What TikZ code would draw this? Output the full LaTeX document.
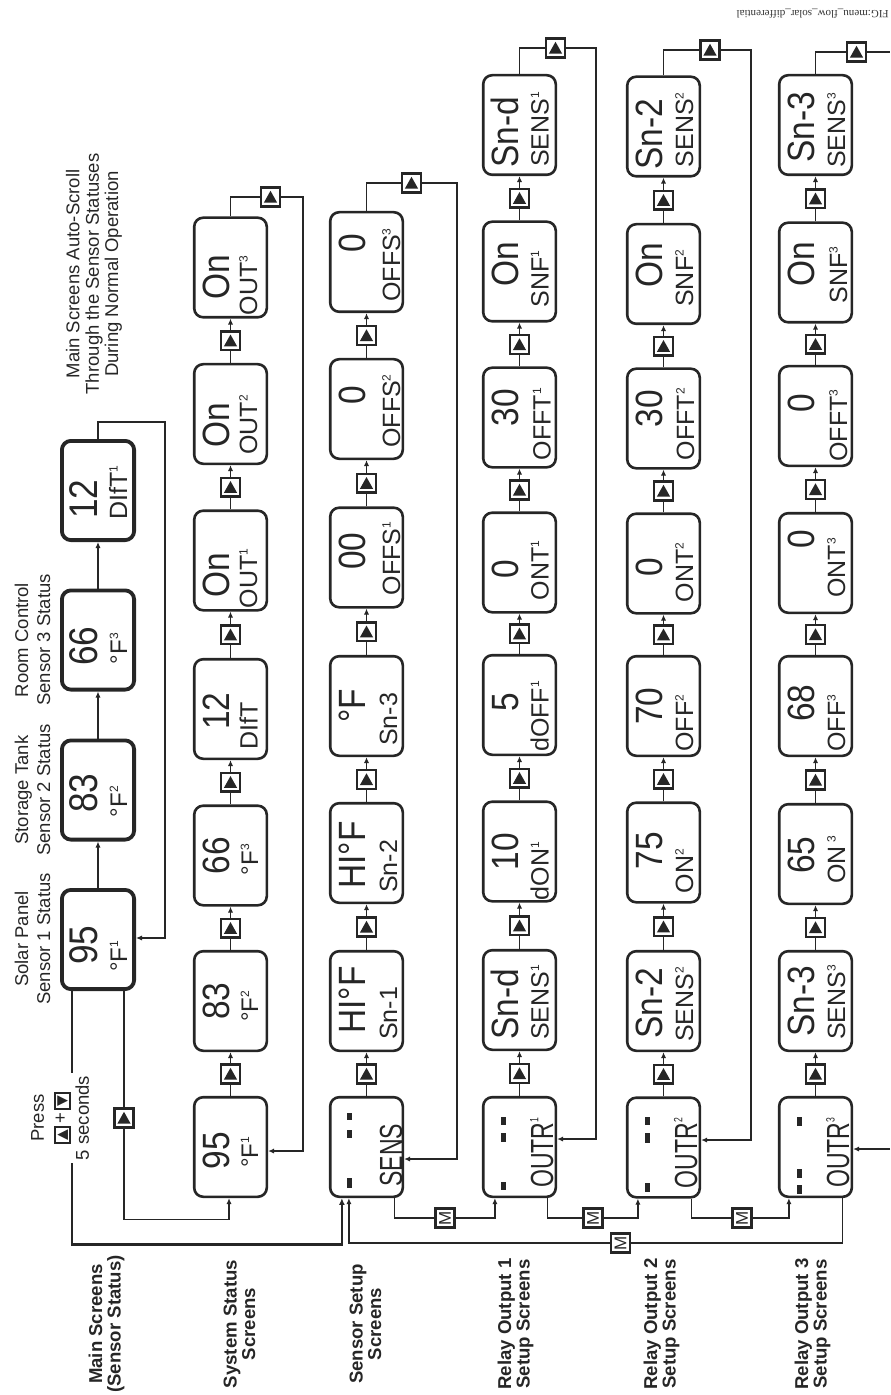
\documentclass[tikz,border=0pt]{standalone}
\usepackage{fontspec}
\setmainfont{Liberation Sans}
\newfontfamily\bigf[FakeStretch=0.88]{Liberation Sans}
\newfontfamily\narf[FakeStretch=0.72]{Liberation Sans}
\newfontfamily\symf{DejaVu Sans}
\newfontfamily\figf{Liberation Serif}
\usetikzlibrary{arrows.meta,calc}
\newcommand{\sups}[1]{\raisebox{\dimexpr0.716em-4.2pt\relax}{\fontsize{6}{6}\selectfont #1}}
\newcommand{\keyb}[1]{{\setlength{\fboxsep}{0.7pt}\setlength{\fboxrule}{0.9pt}\fbox{\symf\fontsize{7}{7}\selectfont #1}}}
\newcommand{\scrn}[9]{%
  \node[curbox] (#1) at (#2,#3) {};
  \node[curbig] (#1-big) at ($(#1.center)+(-1,#6)$) {#4};
  \node[#8] (#1-lab) at ($(#1.south)+(#9,-#7)$) {#5};
}
\begin{document}
\begin{tikzpicture}[x=0.5pt,y=-0.5pt,
  conn/.style={draw=black!85, line width=0.6pt},
  arr/.style={conn, -{Latex[length=3pt,width=2.6pt]}},
  thk/.style={draw=black!85, line width=1.4pt, -{Latex[length=3.4pt,width=3pt]}},
  scr/.style={draw=black!85, line width=1.3pt, rounded corners=4.5pt, minimum width=36.3pt, minimum height=49.8pt, inner sep=0pt},
  scrm/.style={scr, line width=1.9pt, minimum width=36.1pt, minimum height=49.6pt},
  bigt/.style={rotate=90, anchor=base, inner sep=0pt, text=black!85, font=\bigf\fontsize{19}{19}\selectfont},
  bigtm/.style={bigt, font=\bigf\fontsize{20}{20}\selectfont},
  smallt/.style={rotate=90, anchor=base west, inner sep=0pt, text=black!85, font=\fontsize{12.5}{12.5}\selectfont},
  degt/.style={smallt, font=\fontsize{12}{12}\selectfont},
  senst/.style={smallt, font=\narf\fontsize{16}{16}\selectfont},
  upbtn/.style={draw=black!85, line width=1.2pt, fill=white, minimum size=9.4pt, inner sep=0pt,
    path picture={\fill[black!85] ([xshift=-3.3pt,yshift=-2.8pt]path picture bounding box.center) -- ([xshift=3.3pt,yshift=-2.8pt]path picture bounding box.center) -- ([yshift=3.1pt]path picture bounding box.center) -- cycle;}},
  mbtn/.style={draw=black!85, line width=1.2pt, fill=white, minimum size=9.4pt, inner sep=0pt, rotate=90, text=black!85, font=\fontsize{8.5}{8.5}\selectfont},
  hdr/.style={rotate=90, align=center, inner sep=0pt, text=black!85, font=\fontsize{9.25}{11}\selectfont},
  note/.style={hdr, font=\fontsize{9.25}{9.7}\selectfont},
  rowlab/.style={rotate=90, align=center, inner sep=0pt, text=black!85, font=\bfseries\fontsize{9.3}{9.2}\selectfont},
  dsh/.style={fill=black!85}
]
\useasboundingbox (0,0) rectangle (890,1395);

% ---------------- main screens
\begin{scope}[curbox/.style={scrm}, curbig/.style={bigtm}]
\scrn{ma}{98}{939.5}{95}{°F\sups{1}}{5.5}{19}{degt}{29}
\scrn{mb}{98}{790}{83}{°F\sups{2}}{3}{24}{degt}{29}
\scrn{mc}{98}{640}{66}{°F\sups{3}}{6}{27}{degt}{29}
\scrn{md}{98}{490.5}{12}{DIfT\sups{1}}{8.5}{22}{smallt}{29}
\end{scope}

\begin{scope}[curbox/.style={scr}, curbig/.style={bigt}]
% system status
\scrn{sa}{230.5}{1147}{95}{°F\sups{1}}{3.5}{30}{degt}{27.5}
\scrn{sb}{230.5}{1001}{83}{°F\sups{2}}{0}{30}{degt}{27.5}
\scrn{sc}{230.5}{855.5}{66}{°F\sups{3}}{0}{31}{degt}{27.5}
\scrn{sd}{230.5}{709}{12}{DIfT}{2}{10}{smallt}{27}
\scrn{se}{230.5}{560.5}{On}{OUT\sups{1}}{15}{3}{smallt}{26.5}
\scrn{sf}{230.5}{414}{On}{OUT\sups{2}}{11}{10}{smallt}{26.5}
\scrn{sg}{230.5}{267.5}{On}{OUT\sups{3}}{10}{3}{smallt}{26.5}
% sensor setup
\scrn{ea}{366.5}{1147}{}{SENS}{0}{11}{senst}{35.5}
\scrn{eb}{366.5}{1001}{HI°F}{Sn-1}{-1}{12}{smallt}{30.5}
\scrn{ec}{366.5}{853}{HI°F}{Sn-2}{2}{11}{smallt}{30.5}
\scrn{ed}{366.5}{706}{°F}{Sn-3}{0}{11}{smallt}{30.5}
\scrn{ee}{366.5}{557.5}{00}{OFFS\sups{1}}{-6.5}{13}{smallt}{33.5}
\scrn{ef}{366.5}{409}{0}{OFFS\sups{2}}{-14}{12}{smallt}{33.5}
\scrn{eg}{366.5}{262}{0}{OFFS\sups{3}}{-18.5}{11}{smallt}{33.5}
% relay 1
\scrn{r1a}{519.5}{1147}{}{OUTR\sups{1}}{0}{10}{senst}{33.5}
\scrn{r1b}{519.5}{1000}{Sn-d}{SENS\sups{1}}{4}{11}{smallt}{29}
\scrn{r1c}{519.5}{851.5}{10}{dON\sups{1}}{0}{2}{smallt}{29}
\scrn{r1d}{519.5}{705}{5}{dOFF\sups{1}}{-3}{4}{smallt}{29}
\scrn{r1e}{519.5}{562.5}{0}{ONT\sups{1}}{6.5}{13}{smallt}{29}
\scrn{r1f}{519.5}{417.5}{30}{OFFT\sups{1}}{-10}{8}{smallt}{31}
\scrn{r1g}{519.5}{271.5}{On}{SNF\sups{1}}{-7}{15}{smallt}{29}
\scrn{r1h}{519.5}{125}{Sn-d}{SENS\sups{1}}{7}{9}{smallt}{29}
% relay 2
\scrn{r2a}{663.5}{1147.5}{}{OUTR\sups{2}}{0}{10}{senst}{33.5}
\scrn{r2b}{663.5}{1001}{Sn-2}{SENS\sups{2}}{2.5}{10}{smallt}{29.5}
\scrn{r2c}{663.5}{852.5}{75}{ON\sups{2}}{-2}{10}{smallt}{29.5}
\scrn{r2d}{663.5}{706}{70}{OFF\sups{2}}{0}{5}{smallt}{29.5}
\scrn{r2e}{663.5}{563.5}{0}{ONT\sups{2}}{4}{12}{smallt}{29.5}
\scrn{r2f}{663.5}{418.5}{30}{OFFT\sups{2}}{-10}{9}{smallt}{30.5}
\scrn{r2g}{663.5}{274}{On}{SNF\sups{2}}{-9}{18}{smallt}{29.5}
\scrn{r2h}{663.5}{126.5}{Sn-2}{SENS\sups{2}}{7.5}{10}{smallt}{29.5}
% relay 3
\scrn{r3a}{815.5}{1147}{}{OUTR\sups{3}}{0}{10}{senst}{33.5}
\scrn{r3b}{815.5}{1001}{Sn-3}{SENS\sups{3}}{0}{12}{smallt}{29.5}
\scrn{r3c}{815.5}{854}{65}{ON\,\sups{3}}{1}{21}{smallt}{29.5}
\scrn{r3d}{815.5}{706}{68}{OFF\sups{3}}{-3}{5}{smallt}{29.5}
\scrn{r3e}{815.5}{563}{0}{ONT\sups{3}}{-23.5}{16}{smallt}{29.5}
\scrn{r3f}{815.5}{416}{0}{OFFT\sups{3}}{-12.5}{5}{smallt}{31.5}
\scrn{r3g}{815.5}{272.5}{On}{SNF\sups{3}}{-8.5}{20}{smallt}{31.5}
\scrn{r3h}{815.5}{125}{Sn-3}{SENS\sups{3}}{2.5}{8}{smallt}{29.5}
\end{scope}

% display dashes
\fill[dsh] (347,1113) rectangle (352,1120);
\fill[dsh] (347,1130) rectangle (352,1138);
\fill[dsh] (347,1178) rectangle (352,1188);
\fill[dsh] (501,1117) rectangle (505.5,1125);
\fill[dsh] (501,1133) rectangle (505.5,1142);
\fill[dsh] (501,1182) rectangle (505.5,1190);
\fill[dsh] (645,1117) rectangle (649.5,1125);
\fill[dsh] (645,1133) rectangle (649.5,1143);
\fill[dsh] (645,1183) rectangle (649.5,1192);
\fill[dsh] (797,1117) rectangle (801.5,1126);
\fill[dsh] (797,1169) rectangle (801.5,1178);
\fill[dsh] (797,1185) rectangle (801.5,1194);

% ---------------- row connectors with up buttons
\foreach \rw in {s,e}{\foreach \i/\j in {a/b,b/c,c/d,d/e,e/f,f/g}{
  \node[upbtn] (bt\rw\i) at ($(\rw\i.north)!0.5!(\rw\j.south)$) {};
  \draw[conn] (\rw\i.north) -- (bt\rw\i);
  \draw[arr] (bt\rw\i) -- (\rw\j.south);
}}
\foreach \rw in {r1,r2,r3}{\foreach \i/\j in {a/b,b/c,c/d,d/e,e/f,f/g,g/h}{
  \node[upbtn] (bt\rw\i) at ($(\rw\i.north)!0.5!(\rw\j.south)$) {};
  \draw[conn] (\rw\i.north) -- (bt\rw\i);
  \draw[arr] (bt\rw\i) -- (\rw\j.south);
}}

% main row
\draw[arr] (ma.north) -- (mb.south);
\draw[arr] (mb.north) -- (mc.south);
\draw[arr] (mc.north) -- (md.south);
\coordinate (cm) at (165,938);
\draw[arr] (md.north) -- ++(0,-17) -| (cm) -- (cm -| ma.east);

% loops back to first screen
\node[upbtn] (lbs) at (270.5,197) {};
\coordinate (cs) at (303,1151);
\draw[conn] (sg.north) |- (lbs);
\draw[arr] (lbs) -| (cs) -- (cs -| sa.east);

\node[upbtn] (lbe) at (411.5,183) {};
\coordinate (ce) at (457,1159);
\draw[conn] (eg.north) |- (lbe);
\draw[arr] (lbe) -| (ce) -- (ce -| ea.east);

\node[upbtn] (lb1) at (555.5,48) {};
\coordinate (c1) at (596,1139);
\draw[conn] (r1h.north) |- (lb1);
\draw[arr] (lb1) -| (c1) -- (c1 -| r1a.east);

\node[upbtn] (lb2) at (710,50) {};
\coordinate (c2) at (751,1140);
\draw[conn] (r2h.north) |- (lb2);
\draw[arr] (lb2) -| (c2) -- (c2 -| r2a.east);

\node[upbtn] (lb3) at (856.5,52) {};
\coordinate (c3a) at (890,52);
\coordinate (c3b) at (890,1149);
\draw[conn] (r3h.north) |- (lb3);
\draw[conn] (lb3) -- (c3a);
\draw[arr] (c3b) -- (c3b -| r3a.east);

% main -> system status
\node[upbtn] (mbt) at ($([xshift=-6pt]ma.south east)+(0,127)$) {};
\draw[conn] ([xshift=-6pt]ma.south east) -- (mbt);
\draw[arr] (mbt) |- ($(sa.south)+(-1.5,21)$) -- ([xshift=-0.75pt]sa.south);

% main -> sensor setup (thick)
\draw[thk] ([xshift=6pt]ma.south west) |- ($(ea.south west)+(13,46)$) -- ([xshift=6.5pt]ea.south west);

% M connectors
\node[mbtn] (mb1) at (445,1218) {M};
\node[mbtn] (mb2) at (593,1218) {M};
\node[mbtn] (mb3) at (742,1218) {M};
\node[mbtn] (mb4) at (620.5,1243) {M};
\draw[conn] ([xshift=-5pt]ea.south east) |- (mb1);
\draw[arr] (mb1) -| ([xshift=6.5pt]r1a.south west);
\draw[conn] ([xshift=-5pt]r1a.south east) |- (mb2);
\draw[arr] (mb2) -| ([xshift=6pt]r2a.south west);
\draw[conn] ([xshift=-5pt]r2a.south east) |- (mb3);
\draw[arr] (mb3) -| ([xshift=5.5pt]r3a.south west);
\draw[conn] ([xshift=-5.5pt]r3a.south east) |- (mb4);
\draw[arr] (mb4) -| ([xshift=10pt]ea.south west);

% press label
\node[hdr, fill=white, inner sep=1.5pt, font=\fontsize{9.25}{11.25}\selectfont] (press) at (60,1118)
  {Press\\\keyb{▲}\,+\,\keyb{▼}\\5 seconds};

% headers
\node[hdr] (h1) at (32.5,939) {Solar Panel\\Sensor 1 Status};
\node[hdr] (h2) at (32.5,790) {Storage Tank\\Sensor 2 Status};
\node[hdr] (h3) at (32.5,640) {Room Control\\Sensor 3 Status};
\node[note] (note) at (94,274) {Main Screens Auto-Scroll\\Through the Sensor Statuses\\During Normal Operation};

% row labels
\node[rowlab] (l1) at (106.5,1324) {Main Screens\\(Sensor Status)};
\node[rowlab] (l2) at (239.5,1324) {System Status\\Screens};
\node[rowlab] (l3) at (365.5,1324) {Sensor Setup\\Screens};
\node[rowlab] (l4) at (515.5,1324) {Relay Output 1\\Setup Screens};
\node[rowlab] (l5) at (661.5,1324) {Relay Output 2\\Setup Screens};
\node[rowlab] (l6) at (812.5,1324) {Relay Output 3\\Setup Screens};

% figure tag
\node[rotate=180, anchor=base west, inner sep=0pt, text=black!80, font=\figf\fontsize{5.5}{5.5}\selectfont] (fig) at (889,10.5) {FIG:menu\_flow\_solar\_differential};
\end{tikzpicture}
\end{document}
